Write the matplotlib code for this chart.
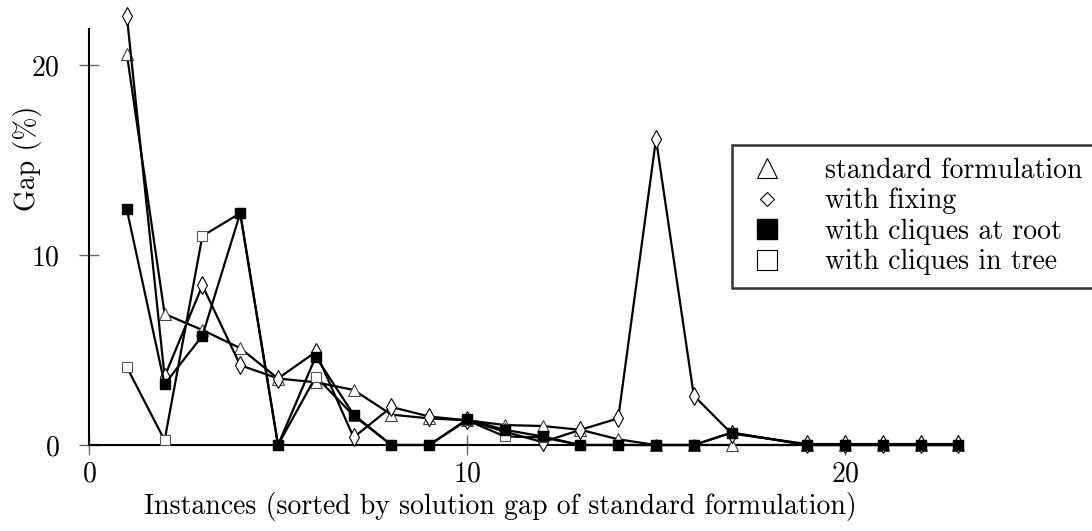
import matplotlib
matplotlib.use("Agg")
import matplotlib.pyplot as plt
from matplotlib.lines import Line2D

plt.rcParams['font.family'] = 'serif'
plt.rcParams['font.serif'] = ['cmr10']
plt.rcParams['mathtext.fontset'] = 'cm'
plt.rcParams['axes.formatter.use_mathtext'] = True

# instance index (no instance 18 in the plot)
instances = [1, 2, 3, 4, 5, 6, 7, 8, 9, 10, 11, 12, 13, 14, 15, 16, 17, 19, 20, 21, 22, 23]

standard = [20.6, 6.9, 6.05, 5.1, 3.5, 3.3, 2.9, 1.6, 1.4, 1.3, 1.05, 1.0, 0.8, 0.3,
            0.0, 0.0, 0.0, 0.0, 0.0, 0.0, 0.0, 0.0]
fixing = [22.6, 3.6, 8.4, 4.2, 3.5, 4.9, 0.4, 2.0, 1.5, 1.3, 0.7, 0.15, 0.8, 1.4,
          16.1, 2.6, 0.6, 0.05, 0.05, 0.05, 0.05, 0.05]
cliques_root = [12.4, 3.2, 5.75, 12.2, 0.0, 4.65, 1.6, 0.0, 0.0, 1.35, 0.8, 0.45, 0.0, 0.0,
                0.0, 0.0, 0.65, 0.0, 0.0, 0.0, 0.0, 0.0]
cliques_tree = [4.1, 0.25, 11.0, 12.2, 0.0, 3.6, 1.55, 0.0, 0.0, 1.3, 0.45, 0.4, 0.0, 0.0,
                0.0, 0.0, 0.65, 0.0, 0.0, 0.0, 0.0, 0.0]

labels = ['standard formulation', 'with fixing', 'with cliques at root', 'with cliques in tree']

W, H = 1092, 531
FS = 20
fig = plt.figure(figsize=(W / 100, H / 100), dpi=100)
# axes placed so that x=0 -> px 89, y=0 -> px 445
xmax, ymax = 24, 23.5
pxx, pxy = 37.8, 19.0
ax = fig.add_axes([89 / W, (H - 445) / H, xmax * pxx / W, ymax * pxy / H])
ax.set_xlim(0, xmax)
ax.set_ylim(0, ymax)

lw = 1.6
h_std, = ax.plot(instances, standard, '-', color='black', lw=lw, marker='^', ms=9,
                 mfc='white', mec='#444444', mew=0.8, clip_on=False, zorder=3)
h_fix, = ax.plot(instances, fixing, '-', color='black', lw=lw, marker='d', ms=9,
                 mfc='white', mec='black', mew=0.8, clip_on=False, zorder=4)
h_tree, = ax.plot(instances, cliques_tree, '-', color='black', lw=lw, marker='s', ms=7,
                  mfc='white', mec='#555555', mew=0.8, clip_on=False, zorder=5)
h_root, = ax.plot(instances, cliques_root, '-', color='black', lw=lw, marker='s', ms=7,
                  mfc='black', mec='black', clip_on=False, zorder=6)

for s in ['top', 'right']:
    ax.spines[s].set_visible(False)
ax.spines['left'].set_bounds(0, 21.9)
ax.spines['bottom'].set_bounds(0, 23.1)
ax.spines['left'].set_linewidth(1.5)
ax.spines['bottom'].set_linewidth(1.5)

ax.set_xticks([0, 10, 20])
ax.set_yticks([0, 10, 20])
ax.tick_params(axis='both', direction='inout', length=14, width=1, color='#666666',
               labelsize=FS)
ax.tick_params(axis='x', pad=5)
ax.tick_params(axis='y', pad=14)

ax.set_xlabel('Instances (sorted by solution gap of standard formulation)', fontsize=FS)
ax.xaxis.set_label_coords((500 - 89) / (xmax * pxx), -(492 - 445) / (ymax * pxy))
ax.set_ylabel('Gap (%)', fontsize=FS)
ax.yaxis.set_label_coords((42 - 89) / (xmax * pxx), (445 - 158) / (ymax * pxy))

# legend shows markers only
handles = [
    Line2D([], [], ls='none', marker='^', ms=15, mfc='white', mec='black', mew=0.8),
    Line2D([], [], ls='none', marker='D', ms=7, mfc='white', mec='black', mew=0.8),
    Line2D([], [], ls='none', marker='s', ms=14, mfc='black', mec='black'),
    Line2D([], [], ls='none', marker='s', ms=14, mfc='white', mec='black', mew=0.8),
]
leg = fig.legend(handles, labels, loc='upper left', bbox_to_anchor=(732 / W, 1 - 145 / H),
                 fontsize=FS, frameon=True, fancybox=False, borderaxespad=0,
                 handletextpad=1.3, labelspacing=0.15, borderpad=0.45, handlelength=1.6)
leg.get_frame().set_edgecolor('black')
leg.get_frame().set_linewidth(1.8)

fig.savefig('out.png', dpi=100)
